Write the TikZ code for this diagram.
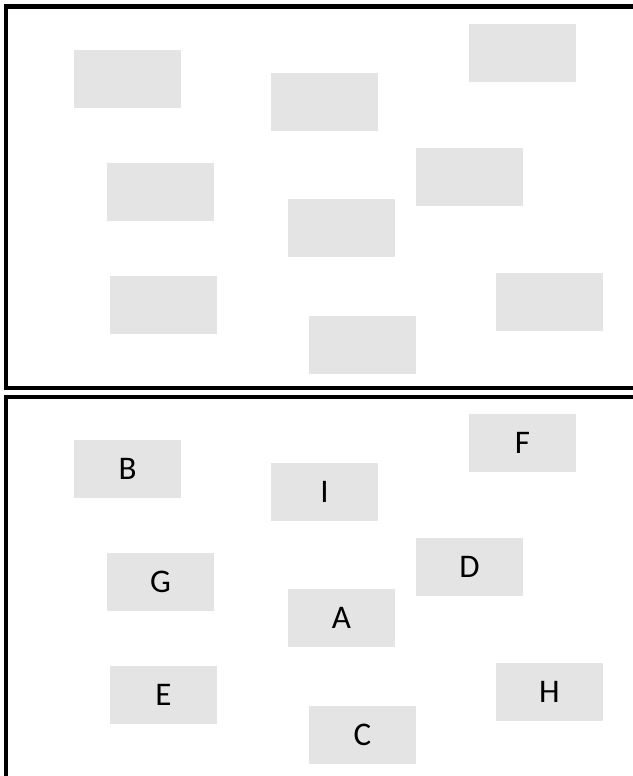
\documentclass[tikz,border=0pt]{standalone}
\usepackage{fontspec}
\newfontfamily\labelfont{Carlito}
\definecolor{boxgray}{RGB}{228,228,228}
\usetikzlibrary{positioning}
\tikzset{
  panel/.style={draw=black,line width=4.5pt},
  slot/.style={fill=boxgray,minimum width=107pt,minimum height=58pt,inner sep=0pt,
               font=\labelfont\fontsize{33}{40}\selectfont}
}

\begin{document}
\begin{tikzpicture}[x=1pt,y=-1pt]
  \useasboundingbox (0,0) rectangle (632,776);

  % Upper panel: empty slots
  \draw[panel] (6,6.5) rectangle (650,388);
  \node[slot] (tB) at (127.5,79)  {};
  \node[slot] (tI) at (324.5,102) {};
  \node[slot] (tF) at (522.5,53)  {};
  \node[slot] (tG) at (160.5,192) {};
  \node[slot] (tD) at (469.5,177) {};
  \node[slot] (tA) at (341.5,228) {};
  \node[slot] (tE) at (163.5,305) {};
  \node[slot] (tH) at (549.5,302) {};
  \node[slot] (tC) at (362.5,345) {};

  % Lower panel: labelled slots
  \draw[panel] (6,397) rectangle (650,800);
  \node[slot] (bB) at (127.5,469) {B};
  \node[slot] (bI) at (324.5,492) {I};
  \node[slot] (bF) at (522.5,443) {F};
  \node[slot] (bG) at (160.5,582) {G};
  \node[slot] (bD) at (469.5,567) {D};
  \node[slot] (bA) at (341.5,618) {A};
  \node[slot] (bE) at (163.5,695) {E};
  \node[slot] (bH) at (549.5,692) {H};
  \node[slot] (bC) at (362.5,735) {C};
\end{tikzpicture}
\end{document}
